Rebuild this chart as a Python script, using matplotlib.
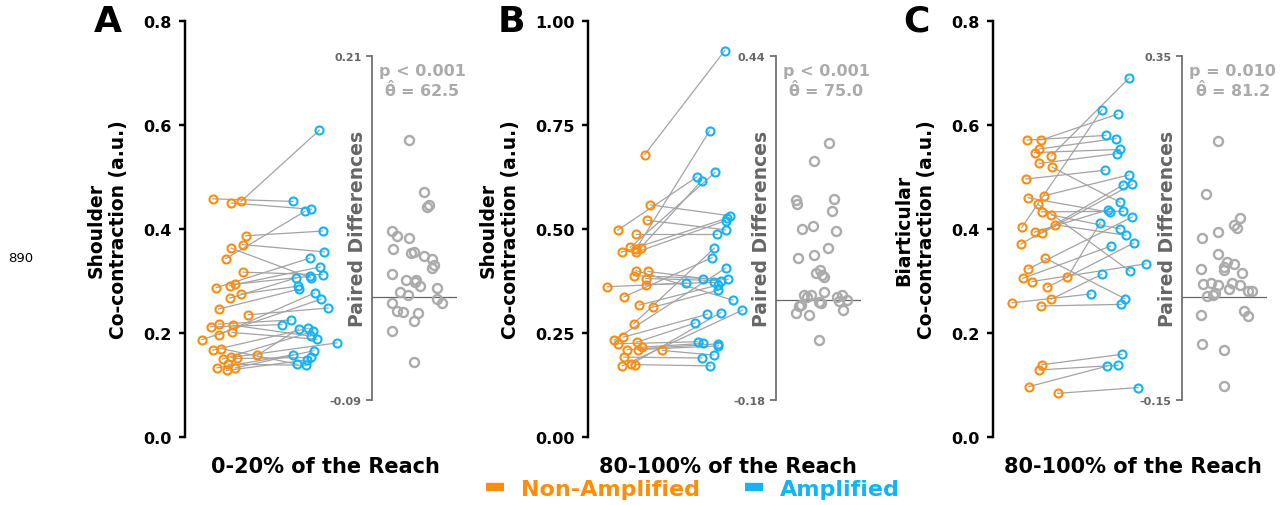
import matplotlib
matplotlib.use('Agg')
import matplotlib.pyplot as plt
from matplotlib.lines import Line2D
import numpy as np

# ---------------- data ----------------
# Panel A: shoulder co-contraction, 0-20% of the reach
a_non = [0.453, 0.458, 0.450, 0.387, 0.370, 0.363, 0.343, 0.317, 0.287, 0.291, 0.294,
         0.267, 0.275, 0.235, 0.197, 0.187, 0.157, 0.150, 0.246, 0.217, 0.212, 0.215,
         0.201, 0.167, 0.153, 0.133, 0.133, 0.151, 0.128, 0.140, 0.170]
a_amp = [0.590, 0.453, 0.438, 0.396, 0.356, 0.306, 0.434, 0.312, 0.344, 0.327, 0.309,
         0.306, 0.290, 0.248, 0.277, 0.265, 0.208, 0.203, 0.284, 0.225, 0.216, 0.194,
         0.188, 0.209, 0.181, 0.158, 0.166, 0.153, 0.148, 0.138, 0.140]
a_non_jit = [0.15, -0.20, 0.03, 0.21, 0.17, 0.03, -0.04, 0.18, -0.16, 0.01, 0.08, 0.01,
             0.15, 0.24, -0.12, -0.34, 0.35, -0.08, -0.13, -0.13, -0.23, 0.05, 0.04,
             -0.20, 0.03, -0.15, 0.08, 0.10, -0.03, -0.01, -0.10]
a_amp_jit = [0.13, -0.20, 0.03, 0.17, 0.19, 0.02, -0.05, 0.17, 0.01, 0.14, 0.01, -0.16,
             -0.14, 0.24, 0.07, 0.15, -0.13, 0.05, -0.13, -0.23, -0.34, 0.02, 0.10,
             -0.01, 0.35, -0.20, 0.06, 0.03, -0.03, -0.04, -0.15]
a_diff_jit = [-8, 7, 12, 10, -25, -20, -8, -24, -3, -6, 7, 15, 17, 15, -25, -11, -1, -2,
              3, 20, -17, -9, 20, 25, -25, -20, -14, 1, -3, -25, -3]

# Panel B: shoulder co-contraction, 80-100% of the reach
b_non = [0.679, 0.558, 0.521, 0.497, 0.489, 0.456, 0.455, 0.452, 0.444, 0.444, 0.272,
         0.233, 0.337, 0.171, 0.175, 0.317, 0.400, 0.398, 0.388, 0.381, 0.366, 0.361,
         0.312, 0.240, 0.228, 0.224, 0.216, 0.210, 0.210, 0.208, 0.192, 0.174]
b_amp = [0.929, 0.532, 0.498, 0.625, 0.489, 0.636, 0.616, 0.736, 0.526, 0.520, 0.454,
         0.406, 0.431, 0.305, 0.299, 0.365, 0.329, 0.381, 0.379, 0.376, 0.372, 0.370,
         0.353, 0.295, 0.274, 0.229, 0.225, 0.224, 0.219, 0.197, 0.190, 0.171]
b_non_jit = [0.16, 0.23, 0.19, -0.18, 0.05, -0.02, 0.11, 0.05, -0.13, 0.05, 0.02, -0.22,
             -0.10, -0.12, -0.01, 0.09, 0.05, 0.20, 0.02, 0.17, 0.17, -0.31, 0.26, -0.11,
             0.06, -0.18, 0.13, -0.06, 0.07, 0.38, -0.10, 0.04]
b_amp_jit = [0.16, 0.22, 0.17, -0.19, 0.06, 0.04, -0.13, -0.03, 0.19, 0.17, 0.03, 0.17,
             0.00, 0.38, 0.11, 0.07, 0.26, -0.11, 0.20, 0.11, 0.03, -0.32, 0.08, -0.06,
             -0.21, -0.18, -0.11, 0.08, 0.08, 0.02, -0.13, -0.02]
b_diff_jit = [8, -7, 13, -25, -24, 11, -8, -19, 15, 7, -7, -23, -1, -5, 1, 3, 3, 21, -10,
              -17, 16, -14, 26, 18, -2, 0, -20, -22, 22, -25, -12, -2]

# Panel C: biarticular co-contraction, 80-100% of the reach
c_non = [0.541, 0.403, 0.571, 0.571, 0.554, 0.547, 0.526, 0.496, 0.464, 0.519, 0.433,
         0.427, 0.408, 0.288, 0.460, 0.392, 0.394, 0.323, 0.307, 0.305, 0.299, 0.265,
         0.258, 0.252, 0.139, 0.129, 0.097, 0.084, 0.448, 0.344, 0.371]
c_amp = [0.690, 0.629, 0.621, 0.580, 0.574, 0.553, 0.545, 0.513, 0.504, 0.451, 0.434,
         0.400, 0.388, 0.373, 0.432, 0.486, 0.437, 0.423, 0.412, 0.367, 0.333, 0.313,
         0.275, 0.255, 0.159, 0.138, 0.136, 0.095, 0.319, 0.266, 0.485]
c_non_jit = [0.18, -0.19, 0.05, -0.12, 0.03, -0.03, 0.03, -0.14, 0.09, 0.19, 0.06, 0.18,
             0.23, 0.13, -0.11, 0.06, -0.03, -0.11, 0.38, -0.18, -0.06, 0.18, -0.31, 0.05,
             0.06, 0.03, -0.10, 0.26, 0.01, 0.10, -0.20]
c_amp_jit = [0.15, -0.19, 0.01, -0.14, -0.01, 0.04, 0.00, -0.15, 0.15, 0.04, 0.08, 0.04,
             0.11, 0.21, -0.09, 0.19, -0.11, 0.19, -0.21, -0.08, 0.36, -0.19, -0.33, 0.05,
             0.06, 0.01, -0.13, 0.26, 0.16, 0.10, 0.08]
c_diff_jit = [-9, -21, 13, 7, 10, -9, -25, -9, 0, 7, -3, -26, -3, 15, 5, -16, -24, 13, -9,
              2, 21, 25, -12, -14, -20, 17, -26, 21, -25, -3, -3]

panel_letters = ['A', 'B', 'C']
ylabels = ['Shoulder\nCo-contraction (a.u.)', 'Shoulder\nCo-contraction (a.u.)',
           'Biarticular\nCo-contraction (a.u.)']
xlabels = ['0-20% of the Reach', '80-100% of the Reach', '80-100% of the Reach']
yticks_main = [[0.0, 0.2, 0.4, 0.6, 0.8], [0.0, 0.25, 0.50, 0.75, 1.00],
               [0.0, 0.2, 0.4, 0.6, 0.8]]
ytick_fmt = ['{:.1f}', '{:.2f}', '{:.1f}']
diff_limits = [(-0.09, 0.21), (-0.18, 0.44), (-0.15, 0.35)]
p_texts = ['p < 0.001', 'p < 0.001', 'p = 0.010']
theta_texts = ['62.5', '75.0', '81.2']
legend_labels = ['Non-Amplified', 'Amplified']

# ---------------- style ----------------
ORANGE = '#FF8C0A'
BLUE = '#12B4F5'
LINE_GRAY = '#A3A3A3'
PT_GRAY = '#ABABAB'
DARK_GRAY = '#666666'

W, H = 1284, 506
fig = plt.figure(figsize=(12.84, 5.06), dpi=100)


def fx(px):
    return px / W


def fy(py):
    return 1 - py / H


spine_px = [185, 588, 993]
inset_px = [372, 776, 1182]

data = [(a_non, a_amp, a_non_jit, a_amp_jit, a_diff_jit),
        (b_non, b_amp, b_non_jit, b_amp_jit, b_diff_jit),
        (c_non, c_amp, c_non_jit, c_amp_jit, c_diff_jit)]

for k in range(3):
    non, amp, njit, ajit, djit = [np.array(v, dtype=float) for v in data[k]]
    ax = fig.add_axes([fx(spine_px[k]), fy(438), 280 / W, (438 - 22) / H])
    ax.patch.set_alpha(0)
    ax.set_xlim(-0.55, 2.95)
    yt = yticks_main[k]
    ax.set_ylim(yt[0], yt[-1])
    for s in ['top', 'right', 'bottom']:
        ax.spines[s].set_visible(False)
    ax.spines['left'].set_linewidth(1.75)
    ax.set_xticks([])
    ax.set_yticks(yt)
    ax.set_yticklabels([ytick_fmt[k].format(v) for v in yt], fontsize=11.5,
                       fontweight='bold')
    ax.tick_params(axis='y', length=4.3, width=1.75, pad=5.5)

    x0 = 0 + njit
    x1 = 1 + ajit
    for i in range(len(non)):
        ax.plot([x0[i], x1[i]], [non[i], amp[i]], color=LINE_GRAY, lw=0.9, zorder=1)
    ax.plot(x0, non, 'o', mfc='none', mec=ORANGE, ms=5.8, mew=1.5, zorder=3)
    ax.plot(x1, amp, 'o', mfc='none', mec=BLUE, ms=5.8, mew=1.5, zorder=3)
    ax.set_ylabel(ylabels[k], fontsize=13.5, fontweight='bold', labelpad=11)
    ax.set_xlabel(xlabels[k], fontsize=15, fontweight='bold', labelpad=14)

    fig.text(fx(spine_px[k] - 77), fy(22), panel_letters[k], fontsize=26,
             fontweight='bold', ha='center', va='center')

    # paired differences inset
    ins = fig.add_axes([fx(inset_px[k]), fy(401), 85 / W, 344 / H])
    ins.patch.set_alpha(0)
    ins.set_xlim(-45, 40)
    lo, hi = diff_limits[k]
    ins.set_ylim(lo, hi)
    for s in ['top', 'right', 'bottom']:
        ins.spines[s].set_visible(False)
    ins.spines['left'].set_color(DARK_GRAY)
    ins.spines['left'].set_linewidth(1.2)
    ins.set_xticks([])
    ins.set_yticks([lo, hi])
    ins.set_yticklabels([f'{lo:.2f}', f'{hi:.2f}'], fontsize=8, fontweight='bold',
                        color=DARK_GRAY)
    ins.tick_params(axis='y', length=4, width=1.2, color=DARK_GRAY)
    ins.axhline(0, color=DARK_GRAY, lw=0.9, zorder=1)
    diffs = amp - non
    order = np.argsort(-diffs)
    xs = np.empty(len(diffs))
    xs[order] = djit
    ins.plot(xs, diffs, 'o', mfc='none', mec=PT_GRAY, ms=6.5, mew=1.7, zorder=3)
    ins.set_ylabel('Paired Differences', fontsize=13.5, fontweight='bold',
                   color=DARK_GRAY)
    ins.yaxis.set_label_coords(-0.06, 0.5)

    cx = fx(inset_px[k] + 50)
    fig.text(cx, fy(76), p_texts[k], ha='center', va='baseline', fontsize=11.5,
             fontweight='bold', color=PT_GRAY)
    fig.text(cx, fy(97), r'$\mathbf{\hat{\theta}}$ = ' + theta_texts[k],
             ha='center', va='baseline', fontsize=11.5, fontweight='bold',
             color=PT_GRAY)

handles = [Line2D([], [], color=ORANGE, lw=6, solid_capstyle='butt'),
           Line2D([], [], color=BLUE, lw=6, solid_capstyle='butt')]
fig.legend(handles, legend_labels, loc='center', bbox_to_anchor=(fx(693), fy(490)),
           ncol=2, frameon=False, prop=dict(weight='bold', size=16),
           labelcolor='linecolor', handlelength=0.8, handletextpad=0.8,
           columnspacing=2.0, borderpad=0, borderaxespad=0)

fig.text(fx(21), fy(258), '890', fontsize=9.5, ha='center', va='center')

fig.savefig('out.png', dpi=100)
